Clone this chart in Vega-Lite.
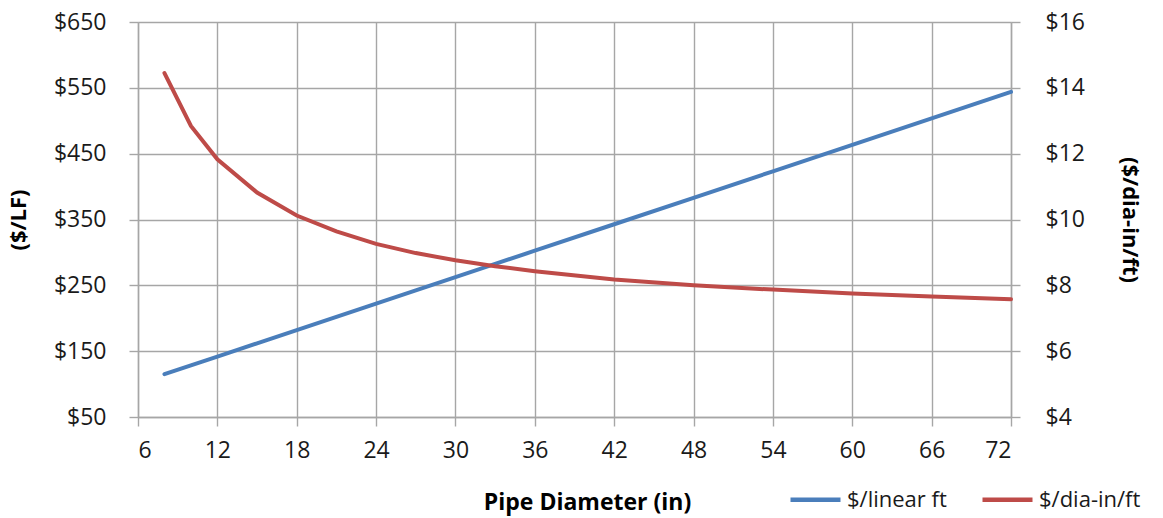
{
  "$schema": "https://vega.github.io/schema/vega-lite/v6.json",
  "width": 873,
  "height": 395,
  "autosize": {"type": "none"},
  "padding": {"left": 138, "top": 22, "right": 152, "bottom": 101},
  "background": "white",
  "config": {
    "view": {"stroke": null},
    "font": "Open Sans",
    "axis": {
      "labelFont": "Open Sans",
      "labelFontSize": 23,
      "labelColor": "#1a1a1a",
      "titleFont": "Open Sans",
      "titleFontSize": 22,
      "titleFontWeight": "bold",
      "titleColor": "#000000",
      "gridColor": "#a6a6a6",
      "gridWidth": 1.4,
      "gridOpacity": 1,
      "domainColor": "#a6a6a6",
      "domainWidth": 1.4,
      "tickColor": "#a6a6a6",
      "tickWidth": 1.4,
      "tickSize": 9
    },
    "legend": {
      "labelFont": "Open Sans",
      "labelFontSize": 22,
      "labelColor": "#1a1a1a"
    }
  },
  "data": {
    "values": [
      {"d": 8, "lf": 115, "dia": 14.45},
      {"d": 10, "lf": 128.4, "dia": 12.84},
      {"d": 12, "lf": 141.8, "dia": 11.83},
      {"d": 15, "lf": 161.9, "dia": 10.82},
      {"d": 18, "lf": 182, "dia": 10.12},
      {"d": 21, "lf": 202.1, "dia": 9.64},
      {"d": 24, "lf": 222.2, "dia": 9.26},
      {"d": 27, "lf": 242.3, "dia": 8.98},
      {"d": 30, "lf": 262.4, "dia": 8.76},
      {"d": 33, "lf": 282.5, "dia": 8.58},
      {"d": 36, "lf": 302.6, "dia": 8.43},
      {"d": 42, "lf": 342.8, "dia": 8.18},
      {"d": 48, "lf": 383, "dia": 8.0},
      {"d": 54, "lf": 423.2, "dia": 7.87},
      {"d": 60, "lf": 463.4, "dia": 7.75},
      {"d": 66, "lf": 503.6, "dia": 7.66},
      {"d": 72, "lf": 543.8, "dia": 7.58}
    ]
  },
  "encoding": {
    "x": {
      "field": "d",
      "type": "quantitative",
      "scale": {"domain": [6, 72], "nice": false, "zero": false},
      "axis": {
        "values": [6, 12, 18, 24, 30, 36, 42, 48, 54, 60, 66, 72],
        "title": "Pipe Diameter (in)",
        "titleFontSize": 23,
        "labelPadding": 13,
        "titleX": 449,
        "titleY": 85,
        "titleBaseline": "middle",
        "titleAlign": "center"
      }
    }
  },
  "layer": [
    {
      "mark": {"type": "line", "strokeWidth": 4, "strokeCap": "round"},
      "encoding": {
        "y": {
          "field": "lf",
          "type": "quantitative",
          "scale": {"domain": [50, 650], "nice": false, "zero": false},
          "axis": {
            "orient": "left",
            "values": [50, 150, 250, 350, 450, 550, 650],
            "labelExpr": "'$' + datum.value",
            "title": "($/LF)",
            "labelPadding": 23,
            "titleX": -120,
            "titleY": 197.5,
            "titleBaseline": "middle",
            "titleAlign": "center"
          }
        },
        "color": {
          "datum": "$/linear ft",
          "scale": {"domain": ["$/linear ft", "$/dia-in/ft"], "range": ["#4a7ebb", "#be4b48"]},
          "legend": {
            "title": null,
            "orient": "none",
            "direction": "horizontal",
            "legendX": 650,
            "legendY": 450,
            "symbolType": "stroke",
            "symbolSize": 2500,
            "symbolStrokeWidth": 4.5,
            "labelOffset": 4,
            "columnPadding": 26
          }
        }
      }
    },
    {
      "mark": {"type": "line", "strokeWidth": 4, "strokeCap": "round"},
      "encoding": {
        "y": {
          "field": "dia",
          "type": "quantitative",
          "scale": {"domain": [4, 16], "nice": false, "zero": false},
          "axis": {
            "orient": "right",
            "values": [4, 6, 8, 10, 12, 14, 16],
            "labelExpr": "'$' + datum.value",
            "title": "($/dia-in/ft)",
            "labelPadding": 25,
            "grid": false,
            "titleX": 118,
            "titleY": 197.5,
            "titleBaseline": "middle",
            "titleAlign": "center"
          }
        },
        "color": {"datum": "$/dia-in/ft"}
      }
    }
  ],
  "resolve": {"scale": {"y": "independent"}}
}
